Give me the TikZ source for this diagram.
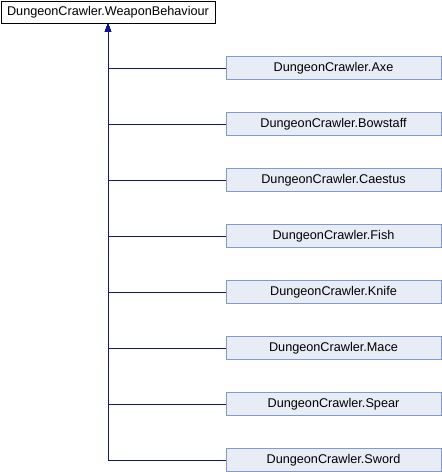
\documentclass[tikz,border=0pt]{standalone}
\usepackage{fontspec}
\setmainfont{Liberation Sans}
\definecolor{edgeblue}{RGB}{20,20,140}
\definecolor{boxfill}{RGB}{232,236,244}
\definecolor{boxline}{RGB}{132,152,208}
\tikzset{
  BaseStyle/.style  = { rectangle, draw = black, fill = white, line width=0.75pt,
                        minimum width = 214*0.75pt, minimum height = 22*0.75pt,
                        inner sep = 0pt, font = \fontsize{9.5}{11}\selectfont },
  ChildStyle/.style = { rectangle, draw = boxline, fill = boxfill, line width=0.75pt,
                        minimum width = 215*0.75pt, minimum height = 23*0.75pt,
                        inner sep = 0pt, font = \fontsize{9.5}{11}\selectfont },
  EdgeStyle/.style  = { <-, >={Triangle[length=6pt,width=4.5pt]}, draw = edgeblue,
                        line width = 0.75pt } }
\usetikzlibrary{arrows.meta}
\begin{document}
\begin{tikzpicture}[x=0.75pt,y=-0.75pt]
  \useasboundingbox (0,0) rectangle (442,472);
  \node[BaseStyle](WB) at (108,12) {DungeonCrawler.WeaponBehaviour};
  \node[ChildStyle](Axe) at (333.5,68) {DungeonCrawler.Axe};
  \node[ChildStyle](Bowstaff) at (333.5,124) {DungeonCrawler.Bowstaff};
  \node[ChildStyle](Caestus) at (333.5,180) {DungeonCrawler.Caestus};
  \node[ChildStyle](Fish) at (333.5,236) {DungeonCrawler.Fish};
  \node[ChildStyle](Knife) at (333.5,292) {DungeonCrawler.Knife};
  \node[ChildStyle](Mace) at (333.5,348) {DungeonCrawler.Mace};
  \node[ChildStyle](Spear) at (333.5,404) {DungeonCrawler.Spear};
  \node[ChildStyle](Sword) at (333.5,460) {DungeonCrawler.Sword};
  %\draw[EdgeStyle](WB.south) -- ++(0,448);
  \draw[EdgeStyle](WB.south) |- (Axe.west);
  \draw[EdgeStyle](WB.south) |- (Bowstaff.west);
  \draw[EdgeStyle](WB.south) |- (Caestus.west);
  \draw[EdgeStyle](WB.south) |- (Fish.west);
  \draw[EdgeStyle](WB.south) |- (Knife.west);
  \draw[EdgeStyle](WB.south) |- (Mace.west);
  \draw[EdgeStyle](WB.south) |- (Spear.west);
  \draw[EdgeStyle](WB.south) |- (Sword.west);
\end{tikzpicture}
\end{document}
